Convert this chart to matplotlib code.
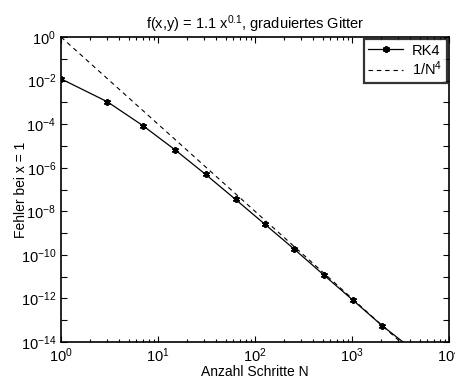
import numpy as np
import matplotlib
matplotlib.use("Agg")
import matplotlib.pyplot as plt
from matplotlib.ticker import LogLocator, NullLocator, FixedLocator

plt.rcParams['font.family'] = ['Liberation Sans', 'DejaVu Sans']
plt.rcParams['mathtext.fontset'] = 'custom'
plt.rcParams['mathtext.rm'] = 'Liberation Sans'
plt.rcParams['mathtext.it'] = 'Liberation Sans'

# data
N = [1, 3, 7, 15, 31, 63, 127, 255, 511, 1023, 2047, 4095]
err_rk4 = [1.2e-2, 1.07e-3, 8.5e-5, 6.6e-6, 4.9e-7, 3.5e-8, 2.5e-9,
           1.8e-10, 1.2e-11, 8.3e-13, 5.6e-14, 5.0e-15]
ref = [1.0 / n**4 for n in N]

title = r"f(x,y) = 1.1 x$^{0.1}$, graduiertes Gitter"
xlabel = "Anzahl Schritte N"
ylabel = "Fehler bei x = 1"

fig = plt.figure(figsize=(4.55, 3.79), dpi=100)
ax = fig.add_axes([61/455, 37/379, 388/455, 305/379])

ax.loglog(N, err_rk4, '-', color='black', lw=0.9, marker=(6, 2, 0), ms=5,
          mew=1.3, label='RK4')
ax.loglog(N, ref, '--', color='black', lw=0.8, dashes=(4, 3.5),
          label=r'1/N$^4$')

ax.set_xlim(1, 1e4)
ax.set_ylim(1e-14, 1)

ax.xaxis.set_major_locator(FixedLocator([1, 10, 100, 1000, 10000]))
ax.xaxis.set_minor_locator(LogLocator(base=10, subs=np.arange(2, 10)))
ax.set_xticklabels([r'$10^{0}$', r'$10^{1}$', r'$10^{2}$', r'$10^{3}$',
                    r'$10^{4}$'])

yt = [10.0**k for k in range(-14, 1)]
ax.yaxis.set_major_locator(FixedLocator(yt))
ax.yaxis.set_minor_locator(NullLocator())
ax.set_yticklabels([(r'$10^{%d}$' % k) if k % 2 == 0 else ''
                    for k in range(-14, 1)])

ax.tick_params(which='both', direction='in', top=True, right=True,
               labelsize=10.5, width=0.8)
ax.tick_params(which='major', length=4, pad=3.5)
ax.tick_params(which='minor', length=2.5)
for s in ax.spines.values():
    s.set_linewidth(1.2)

ax.set_title(title, fontsize=10.5, pad=6)
ax.set_xlabel(xlabel, fontsize=10, va='top')
ax.xaxis.set_label_coords(0.5, -0.076)
ax.set_ylabel(ylabel, fontsize=10)
ax.yaxis.set_label_coords(-0.086, 0.5)

leg = ax.legend(loc='upper right', fontsize=10.5, frameon=True,
                fancybox=False, edgecolor='black', borderaxespad=0.15,
                handlelength=2.4, handletextpad=0.6, borderpad=0.3,
                labelspacing=0.15)
leg.get_frame().set_linewidth(1.6)

fig.savefig("out.png", dpi=100)
